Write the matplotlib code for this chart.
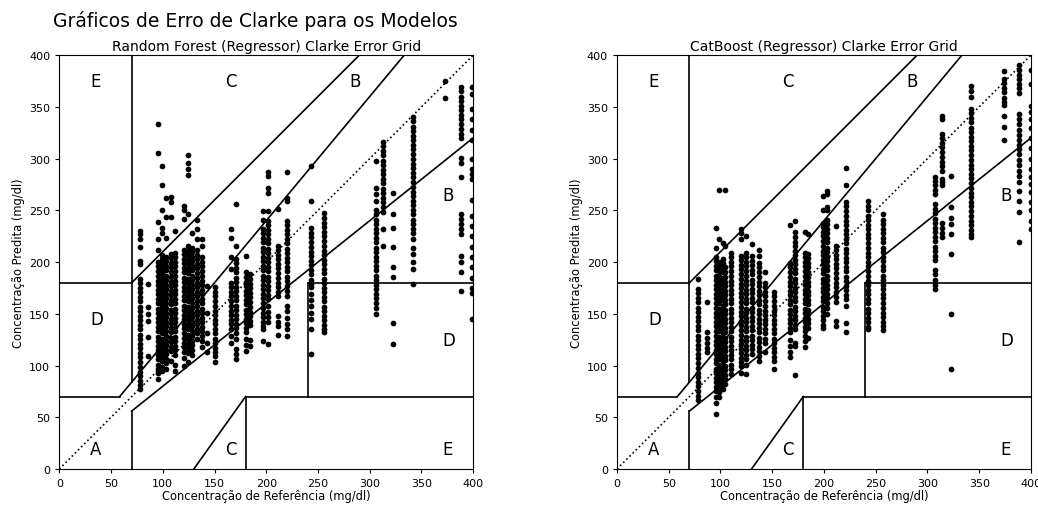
import matplotlib.pyplot as plt
import numpy as np

# Random Forest: valores de referencia (x) e predicoes lidas em cada coluna
rf_ref = [78, 86, 95, 99, 103, 108, 112, 121, 124, 128, 133, 138, 143, 150,
          166, 171, 180, 184, 197, 202, 211, 220, 243, 256, 306, 313, 322,
          342, 373, 388, 399]
rf_pred = [
    [230, 227, 222, 215, 201, 198, 184, 180, 175, 171, 166, 162, 157, 153, 148, 144, 139, 135,
     130, 126, 121, 117, 112, 108, 103, 99, 94, 90, 85, 81, 77],
    [179, 157, 150, 143, 128, 109],
    [333, 305, 239, 222, 212, 200, 196, 191, 187, 182, 178, 173, 169, 164, 160, 155, 151, 146,
     142, 137, 133, 128, 124, 119, 115, 110, 106, 101, 97, 93, 87],
    [293, 274, 250, 233, 228, 207, 203, 198, 194, 189, 185, 180, 176, 171, 167, 162, 158, 153,
     149, 144, 140, 135, 131, 126, 122, 117, 113, 108, 104, 99, 95],
    [262, 244, 223, 205, 201, 196, 192, 187, 183, 178, 174, 169, 165, 160, 156, 151, 147, 142,
     138, 133, 129, 124, 120, 115, 111, 106, 102, 97],
    [263, 258, 244, 208, 204, 199, 195, 190, 186, 181, 177, 172, 168, 163, 159, 154, 150, 145,
     141, 136, 132, 127, 123, 118, 114, 104],
    [230, 209, 205, 200, 196, 191, 187, 182, 178, 173, 169, 164, 160, 155, 151, 146, 142, 137,
     133, 128, 124, 119, 115, 110, 101, 95],
    [254, 250, 242, 212, 208, 203, 199, 194, 190, 185, 181, 176, 172, 167, 163, 158, 154, 149,
     145, 140, 136, 131, 127, 122, 118, 113, 107, 100],
    [303, 296, 290, 284, 246, 216, 211, 207, 202, 198, 193, 189, 184, 180, 175, 171, 166, 162,
     157, 153, 148, 144, 139, 135, 130, 126, 121, 117, 112, 103],
    [228, 214, 210, 205, 201, 196, 192, 187, 183, 178, 174, 169, 165, 160, 156, 151, 147, 142,
     138, 133, 129, 124, 120, 115, 110],
    [241, 232, 222, 212, 207, 203, 198, 194, 189, 185, 180, 176, 171, 167, 162, 158, 153, 149,
     144, 140, 135, 131, 126],
    [222, 216, 205, 200, 196, 191, 187, 182, 178, 173, 169, 164, 160, 155, 151, 146, 142, 137,
     133, 129, 124, 118],
    [177, 151, 131, 122, 113],
    [176, 171, 167, 162, 158, 153, 149, 144, 140, 135, 131, 126, 122, 117, 113, 109, 103],
    [232, 223, 205, 193, 180, 176, 171, 167, 162, 158, 153, 149, 144, 140, 135, 129, 122],
    [256, 216, 203, 199, 194, 190, 185, 181, 176, 172, 167, 163, 158, 154, 149, 145, 140, 136,
     131, 126, 116, 111, 106],
    [206, 190, 186, 181, 177, 172, 168, 163, 159, 154, 150, 145, 141, 136, 132, 126, 120, 114],
    [188, 184, 179, 175, 170, 166, 161, 157, 152, 148, 143, 139, 125, 119],
    [249, 241, 232, 228, 223, 219, 214, 210, 205, 201, 196, 192, 187, 183, 178, 174, 169, 165,
     160, 156, 151, 147, 142, 138, 135, 124],
    [287, 283, 272, 267, 249, 240, 236, 231, 227, 222, 218, 213, 209, 204, 200, 195, 191, 186,
     182, 177, 173, 168, 164, 158, 152, 147, 142, 121],
    [251, 216, 212, 207, 203, 198, 194, 189, 185, 180, 176, 171, 167, 148, 142, 138, 130],
    [287, 262, 259, 240, 236, 231, 227, 222, 218, 213, 209, 204, 200, 195, 191, 186, 182, 177,
     172, 167, 158, 153, 146, 140, 135, 129],
    [293, 259, 233, 228, 224, 219, 215, 210, 206, 201, 197, 192, 188, 183, 179, 176, 169, 163,
     158, 151, 145, 135, 111],
    [247, 243, 238, 234, 229, 225, 220, 216, 211, 207, 202, 198, 193, 189, 184, 180, 175, 171,
     166, 162, 157, 153, 148, 144, 139, 135, 132],
    [298, 272, 266, 259, 250, 246, 241, 237, 232, 228, 223, 219, 214, 210, 205, 201, 196, 192,
     187, 183, 178, 174, 169, 165, 160, 156, 150],
    [316, 312, 307, 303, 298, 294, 289, 285, 280, 276, 271, 267, 262, 258, 253, 248, 232, 216],
    [267, 246, 233, 215, 195, 186, 141, 121],
    [340, 336, 331, 327, 322, 318, 313, 309, 304, 300, 295, 291, 286, 282, 277, 273, 268, 264,
     259, 255, 250, 246, 241, 237, 232, 228, 222, 214, 208, 200, 193, 179],
    [375, 359],
    [369, 365, 360, 356, 351, 347, 342, 338, 333, 329, 324, 320, 301, 296, 282, 246, 242, 237,
     232, 227, 206, 200, 190, 172],
    [369, 362, 348, 338, 328, 318, 300, 290, 285, 280, 260, 245, 235, 225, 215, 205, 195, 185,
     175, 170, 145],
]

# CatBoost
cb_ref = [78, 87, 96, 99, 102, 104, 110, 120, 125, 130, 137, 143, 152, 167, 172, 182, 185,
          199, 203, 212, 221, 243, 257, 307, 314, 323, 342, 374, 388, 400]
cb_pred = [
    [184, 174, 170, 165, 161, 156, 152, 147, 143, 138, 134, 129, 125, 120, 116, 111, 107, 102,
     98, 93, 89, 84, 80, 75, 71, 67],
    [161, 132, 127, 122, 117, 113],
    [233, 214, 205, 201, 196, 192, 187, 183, 178, 174, 169, 165, 160, 156, 151, 147, 142, 138,
     133, 129, 124, 120, 115, 111, 106, 102, 97, 93, 88, 84, 79, 75, 70, 64, 53],
    [270, 222, 200, 196, 191, 187, 182, 178, 173, 169, 164, 160, 155, 151, 146, 142, 137, 133,
     128, 124, 119, 115, 110, 106, 101, 97, 92, 88, 83, 79, 74, 70],
    [218, 203, 199, 194, 190, 185, 181, 176, 172, 167, 163, 158, 154, 149, 145, 140, 136, 131,
     127, 122, 118, 113, 109, 104, 100, 95, 91, 86, 82, 77],
    [270, 216, 195, 190, 186, 181, 177, 172, 168, 163, 159, 154, 150, 145, 141, 136, 132, 127,
     123, 118, 114, 109, 105, 100, 96, 91, 87, 82],
    [209, 205, 200, 196, 191, 187, 182, 178, 173, 169, 164, 160, 155, 151, 146, 142, 137, 133,
     128, 124, 119, 115, 110, 106, 101, 97, 92],
    [232, 228, 222, 206, 202, 197, 193, 188, 184, 179, 175, 170, 166, 161, 157, 152, 148, 143,
     139, 134, 130, 125, 121, 116, 112, 107, 103, 100, 93],
    [225, 209, 205, 200, 196, 191, 187, 182, 178, 173, 169, 164, 160, 155, 151, 146, 142, 137,
     133, 128, 124, 119, 115, 110, 106, 101, 92],
    [217, 206, 201, 197, 192, 188, 183, 179, 174, 170, 165, 161, 156, 152, 147, 143, 138, 134,
     129, 125, 120, 116, 111],
    [212, 206, 199, 195, 190, 186, 181, 177, 172, 168, 163, 159, 154, 150, 145, 141, 136, 132,
     127, 123, 118, 114, 109, 104],
    [190, 180, 176, 171, 167, 162, 158, 153, 149, 144, 140, 135, 131, 126, 122, 113],
    [171, 167, 162, 158, 153, 149, 144, 140, 135, 131, 126, 122, 117, 113, 108, 104, 97],
    [236, 199, 195, 190, 186, 181, 177, 172, 168, 163, 159, 154, 150, 145, 141, 136, 132, 125,
     119, 113, 108],
    [240, 229, 224, 219, 216, 211, 207, 202, 198, 193, 189, 184, 180, 175, 171, 166, 162, 157,
     153, 148, 144, 139, 135, 122, 119, 91],
    [229, 209, 205, 200, 196, 191, 187, 182, 178, 173, 169, 164, 160, 155, 151, 146, 142, 137,
     133, 129, 124, 118],
    [227, 208, 204, 199, 195, 190, 186, 181, 177, 172, 168, 163, 159, 154, 150, 145, 141, 136, 127],
    [264, 250, 238, 234, 229, 225, 220, 216, 211, 207, 202, 198, 193, 189, 184, 180, 175, 171,
     166, 162, 157, 153, 148, 144, 139, 136],
    [269, 266, 253, 250, 241, 237, 232, 228, 223, 219, 214, 210, 205, 201, 196, 192, 187, 183,
     178, 174, 169, 165, 160, 156, 150],
    [235, 216, 212, 207, 203, 198, 194, 189, 185, 180, 176, 171, 166, 161, 143, 138],
    [291, 274, 258, 254, 249, 245, 240, 236, 231, 227, 222, 218, 213, 209, 204, 200, 195, 191,
     186, 182, 177, 173, 168, 164, 158, 141, 132],
    [259, 254, 250, 245, 241, 236, 232, 227, 223, 218, 214, 209, 205, 200, 196, 191, 187, 182,
     178, 173, 169, 164, 160, 155, 151, 146, 142, 137, 135],
    [246, 241, 237, 232, 228, 223, 219, 214, 210, 205, 201, 196, 192, 187, 183, 178, 174, 169,
     165, 160, 156, 151, 147, 142, 138, 134],
    [282, 278, 274, 270, 266, 256, 251, 247, 242, 238, 233, 229, 224, 220, 215, 211, 206, 202,
     192, 188, 183, 178, 174],
    [341, 338, 324, 320, 315, 311, 306, 302, 297, 293, 288, 280, 277, 274, 238, 233, 228, 224],
    [283, 253, 243, 237, 227, 208, 150, 97],
    [370, 365, 360, 348, 344, 339, 335, 330, 326, 321, 317, 312, 308, 303, 299, 294, 290, 285,
     281, 276, 272, 267, 263, 258, 254, 249, 245, 240, 236, 231, 227, 224],
    [385, 377, 373, 368, 364, 359, 355, 352, 341, 331, 318],
    [390, 386, 381, 377, 372, 368, 363, 343, 338, 333, 328, 323, 318, 313, 309, 304, 299, 294,
     288, 283, 277, 269, 259, 248, 219],
    [386, 372, 351, 345, 338, 330, 320, 310, 300, 290, 282, 275, 268, 258, 250, 240, 232],
]

ticks = [0, 50, 100, 150, 200, 250, 300, 350, 400]


def clarke_error_grid(ax, ref_levels, pred_cols, title):
    x = np.concatenate([np.full(len(p), r) for r, p in zip(ref_levels, pred_cols)])
    y = np.concatenate([np.array(p, dtype=float) for p in pred_cols])
    ax.scatter(x, y, marker='o', color='black', s=17, linewidths=0)

    # linhas das zonas
    lw = 1.2
    ax.plot([0, 400], [0, 400], ':', c='black', lw=lw)
    ax.plot([0, 175 / 3], [70, 70], '-', c='black', lw=lw)
    ax.plot([175 / 3, 400 / 1.2], [70, 400], '-', c='black', lw=lw)
    ax.plot([70, 70], [84, 400], '-', c='black', lw=lw)
    ax.plot([0, 70], [180, 180], '-', c='black', lw=lw)
    ax.plot([70, 290], [180, 400], '-', c='black', lw=lw)
    ax.plot([70, 70], [0, 56], '-', c='black', lw=lw)
    ax.plot([70, 400], [56, 320], '-', c='black', lw=lw)
    ax.plot([180, 180], [0, 70], '-', c='black', lw=lw)
    ax.plot([180, 400], [70, 70], '-', c='black', lw=lw)
    ax.plot([240, 240], [70, 180], '-', c='black', lw=lw)
    ax.plot([240, 400], [180, 180], '-', c='black', lw=lw)
    ax.plot([130, 180], [0, 70], '-', c='black', lw=lw)

    # rotulos das zonas
    fs = 12
    ax.text(30, 15, "A", fontsize=fs)
    ax.text(370, 260, "B", fontsize=fs)
    ax.text(280, 370, "B", fontsize=fs)
    ax.text(160, 370, "C", fontsize=fs)
    ax.text(160, 15, "C", fontsize=fs)
    ax.text(30, 140, "D", fontsize=fs)
    ax.text(370, 120, "D", fontsize=fs)
    ax.text(30, 370, "E", fontsize=fs)
    ax.text(370, 15, "E", fontsize=fs)

    ax.set_xlim(0, 400)
    ax.set_ylim(0, 400)
    ax.set_xticks(ticks)
    ax.set_yticks(ticks)
    ax.tick_params(labelsize=8, length=3)
    ax.set_xlabel('Concentração de Referência (mg/dl)', fontsize=8.3, labelpad=1)
    ax.set_ylabel('Concentração Predita (mg/dl)', fontsize=8.3, labelpad=3)
    ax.set_title(title, fontsize=10, pad=4)


fig = plt.figure(figsize=(10.38, 5.06), dpi=100)
ax1 = fig.add_axes([0.0571, 0.0711, 0.3988, 0.818])
ax2 = fig.add_axes([0.5944, 0.0711, 0.3988, 0.818])

clarke_error_grid(ax1, rf_ref, rf_pred, 'Random Forest (Regressor) Clarke Error Grid')
clarke_error_grid(ax2, cb_ref, cb_pred, 'CatBoost (Regressor) Clarke Error Grid')

fig.text(0.246, 0.958, 'Gráficos de Erro de Clarke para os Modelos',
         ha='center', va='center', fontsize=13.5)

fig.savefig('out.png', dpi=100)
